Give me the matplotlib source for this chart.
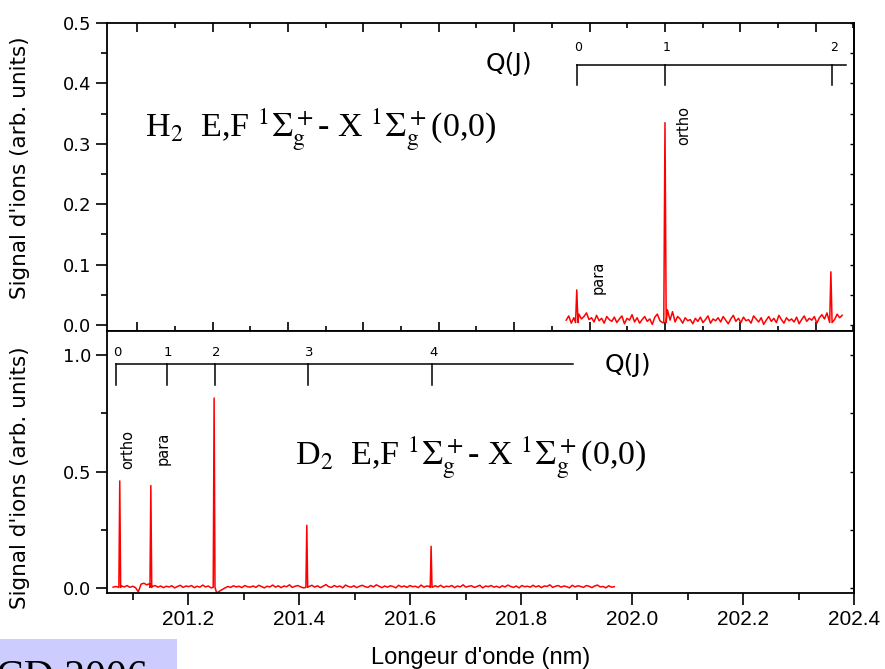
import numpy as np
import matplotlib
matplotlib.use('Agg')
import matplotlib.pyplot as plt
from matplotlib.patches import Rectangle
from matplotlib.ticker import MultipleLocator

plt.rcParams['mathtext.fontset'] = 'stix'
plt.rcParams['font.family'] = ['DejaVu Sans']

# ---------------- data ----------------
# H2 panel (top): baseline noise samples (x 0.001 arb. units) across the scan range
h2_range = (202.169, 202.535)
h2_noise_milli = [8, 15, 3, 12, 6, 18, 10, 14, 20, 9,
                  12, 5, 16, 7, 11, 3, 14, 9, 6, 13,
                  4, 10, 15, 2, 11, 8, 17, 5, 12, 3,
                  9, 14, 6, 10, 1, 13, 18, 7, 4, 12,
                  25, 8, 22, 5, 14, 10, 3, 12, 7, 9,
                  2, 11, 6, 13, 4, 9, 15, 3, 10, 7,
                  12, 5, 14, 8, 2, 10, 16, 6, 11, 4,
                  13, 7, 9, 3, 15, 10, 5, 12, 1, 8,
                  14, 6, 11, 4, 16, 9, 3, 12, 7, 10,
                  5, 13, 2, 9, 15, 6, 11, 8, 14, 3,
                  12, 17, 10, 20, 14, 25, 9, 18, 12, 16]
h2_peak_pos = [202.183, 202.300, 202.520]
h2_peak_height = [0.058, 0.335, 0.088]
h2_q_labels = ['0', '1', '2']
h2_q_pos = [202.183, 202.300, 202.522]
h2_q_end = 202.540

# D2 panel (bottom)
d2_range = (201.065, 201.968)
d2_noise_milli = [5, 8, 2, 10, 6, 12, 4, 9, 3, -15,
                  18, 22, 15, 20, 8, 12, 5, 10, 3, 9,
                  6, 11, 2, 8, 13, 4, 10, 7, 12, 3,
                  9, 5, 14, 6, 10, 2, -10, -20, -12, -5,
                  2, 8, 4, 11, 6, 9, 3, 12, 7, 5,
                  10, 4, 13, 8, 2, 9, 6, 14, 5, 11,
                  3, 10, 7, 15, 4, 9, 12, 6, 2, 10,
                  8, 13, 5, 11, 3, 9, 16, 7, 4, 12,
                  6, 10, 2, 14, 8, 5, 11, 3, 9, 13,
                  7, 4, 12, 6, 15, 9, 3, 10, 5, 11,
                  8, 2, 13, 6, 10, 4, 12, 7, 9, 3,
                  14, 5, 10, 8, 2, 11, 6, 13, 4, 9,
                  7, 12, 3, 10, 6, 15, 5, 9, 11, 4,
                  8, 13, 2, 10, 7, 12, 5, 9, 3, 11,
                  6, 14, 8, 4, 10, 2, 12, 7, 9, 5,
                  13, 6, 11, 3, 10, 8, 15, 4, 9, 12,
                  5, 10, 7, 2, 13, 6, 11, 8, 4, 12,
                  9, 3, 10, 14, 6, 8, 2, 11, 5, 7]
d2_peak_pos = [201.077, 201.133, 201.247, 201.414, 201.638]
d2_peak_height = [0.46, 0.44, 0.815, 0.27, 0.18]
d2_q_labels = ['0', '1', '2', '3', '4']
d2_q_pos = [201.070, 201.162, 201.249, 201.416, 201.640]
d2_q_end = 201.894

x_ticks_bottom = [201.2, 201.4, 201.6, 201.8, 202.0, 202.2, 202.4]
ylabel = "Signal d'ions (arb. units)"
xlabel = "Longeur d'onde (nm)"


def build(rng, noise, pos, hts, half=0.0016):
    x = np.linspace(rng[0], rng[1], len(noise))
    y = np.array(noise, dtype=float) / 1000.0
    mask = np.ones(len(x), dtype=bool)
    for p in pos:
        mask &= np.abs(x - p) > half * 1.4
    xs = list(x[mask])
    ys = list(y[mask])
    for p, h in zip(pos, hts):
        xs += [p - half, p, p + half]
        ys += [0.004, h, 0.004]
    order = np.argsort(xs)
    return np.array(xs)[order], np.array(ys)[order]


fig = plt.figure(figsize=(8.85, 6.69), dpi=100)
L, W = 0.1209, 0.8441
ax1 = fig.add_axes([L, 0.5052, W, 0.4604])
ax2 = fig.add_axes([L, 0.1136, W, 0.3916])

red = '#ff0000'
xh, yh = build(h2_range, h2_noise_milli, h2_peak_pos, h2_peak_height)
ax1.plot(xh, yh, color=red, lw=1.1)
xd, yd = build(d2_range, d2_noise_milli, d2_peak_pos, d2_peak_height)
ax2.plot(xd, yd, color=red, lw=1.1)

# ---- axes styling ----
for ax in (ax1, ax2):
    for s in ax.spines.values():
        s.set_linewidth(1.3)

ax1.set_xlim(201.56, 202.5507)
ax1.set_ylim(-0.01, 0.5)
ax1.xaxis.set_major_locator(MultipleLocator(0.1))
ax1.xaxis.set_minor_locator(MultipleLocator(0.05))
ax1.yaxis.set_major_locator(MultipleLocator(0.1))
ax1.yaxis.set_minor_locator(MultipleLocator(0.05))
ax1.tick_params(axis='x', which='both', top=True, bottom=True, direction='in',
                labelbottom=False, labeltop=False, width=1.2)
ax1.tick_params(axis='x', which='major', length=6.5)
ax1.tick_params(axis='x', which='minor', length=3.8)
ax1.tick_params(axis='y', which='both', left=True, right=False, direction='out',
                width=1.2, labelsize=13)
ax1.tick_params(axis='y', which='major', length=8)
ax1.tick_params(axis='y', which='minor', length=4.5)
ax1.yaxis.set_major_formatter(matplotlib.ticker.FormatStrFormatter('%.1f'))
ax1r = ax1.secondary_yaxis('right')
ax1r.yaxis.set_major_locator(MultipleLocator(0.1))
ax1r.yaxis.set_minor_locator(MultipleLocator(0.05))
ax1r.tick_params(axis='y', which='both', direction='in', labelright=False, width=1.0, length=3)
ax1r.spines['right'].set_linewidth(1.3)

ax2.set_xlim(201.054, 202.4)
ax2.set_ylim(-0.02, 1.102)
ax2.set_xticks(x_ticks_bottom)
ax2.xaxis.set_minor_locator(MultipleLocator(0.1))
ax2.yaxis.set_major_locator(MultipleLocator(0.5))
ax2.yaxis.set_minor_locator(MultipleLocator(0.25))
ax2.yaxis.set_major_formatter(matplotlib.ticker.FormatStrFormatter('%.1f'))
ax2.tick_params(axis='x', which='both', direction='out', top=False, width=1.2,
                labelsize=15, pad=4)
ax2.tick_params(axis='x', which='major', length=8.5)
ax2.tick_params(axis='x', which='minor', length=5)
ax2.tick_params(axis='y', which='both', direction='out', width=1.2, labelsize=13)
ax2.tick_params(axis='y', which='major', length=8)
ax2.tick_params(axis='y', which='minor', length=4.5)
for lab in ax2.get_xticklabels():
    lab.set_family(['Liberation Sans', 'DejaVu Sans'])
ax2r = ax2.secondary_yaxis('right')
ax2r.yaxis.set_major_locator(MultipleLocator(0.5))
ax2r.yaxis.set_minor_locator(MultipleLocator(0.25))
ax2r.tick_params(axis='y', which='both', direction='in', labelright=False, width=1.0, length=3)
ax2r.spines['right'].set_linewidth(1.3)

ax1.set_ylabel(ylabel, fontsize=15.5)
ax1.yaxis.set_label_coords(-0.103, 0.529)
ax2.set_ylabel(ylabel, fontsize=15.5)
ax2.yaxis.set_label_coords(-0.103, 0.44)
ax2.set_xlabel(xlabel, fontsize=17, family=['Liberation Sans', 'DejaVu Sans'], labelpad=13)

# ---- Q(J) brackets ----
def bracket(ax, pos, end, labels, ly, by, ty, fs):
    ax.plot([pos[0], end], [ly, ly], color='k', lw=1.1, clip_on=False)
    for p, lab in zip(pos, labels):
        ax.plot([p, p], [ly, by], color='k', lw=1.1, clip_on=False)
        ax.text(p + 0.002, ty, lab, fontsize=fs, ha='center', va='center')

bracket(ax1, h2_q_pos, h2_q_end, h2_q_labels, 0.430, 0.397, 0.459, 9)
bracket(ax2, d2_q_pos, d2_q_end, d2_q_labels, 0.962, 0.872, 1.009, 9.5)
ax1.text(202.093, 0.432, 'Q(J)', fontsize=18, ha='center', va='center')
ax2.text(201.993, 0.957, 'Q(J)', fontsize=18, ha='center', va='center')

# ---- annotations ----
ax1.text(202.325, 0.331, 'ortho', rotation=90, fontsize=10.5, ha='center', va='center')
ax1.text(202.211, 0.079, 'para', rotation=90, fontsize=10.5, ha='center', va='center')
ax2.text(201.092, 0.596, 'ortho', rotation=90, fontsize=10.5, ha='center', va='center')
ax2.text(201.155, 0.60, 'para', rotation=90, fontsize=10.5, ha='center', va='center')

serif = ['Liberation Serif', 'DejaVu Serif']
title_h2 = r'H$_2$  E,F $^1\Sigma^+_{\rm g}$- X $^1\Sigma^+_{\rm g}$(0,0)'
title_d2 = r'D$_2$  E,F $^1\Sigma^+_{\rm g}$- X $^1\Sigma^+_{\rm g}$(0,0)'
fig.text(145 / 885, 1 - 137 / 669, title_h2, fontsize=24.5, family=serif, ha='left', va='baseline')
fig.text(295 / 885, 1 - 465 / 669, title_d2, fontsize=24.5, family=serif, ha='left', va='baseline')

# ---- corner label box ----
fig.patches.append(Rectangle((0, 0), 177 / 885, 30 / 669, transform=fig.transFigure,
                             facecolor='#ccccff', edgecolor='none', zorder=0))
fig.text(-0.004, -20 / 669, 'CD 2006', fontsize=30, family=serif, ha='left', va='baseline')

fig.savefig('out.png', dpi=100)
